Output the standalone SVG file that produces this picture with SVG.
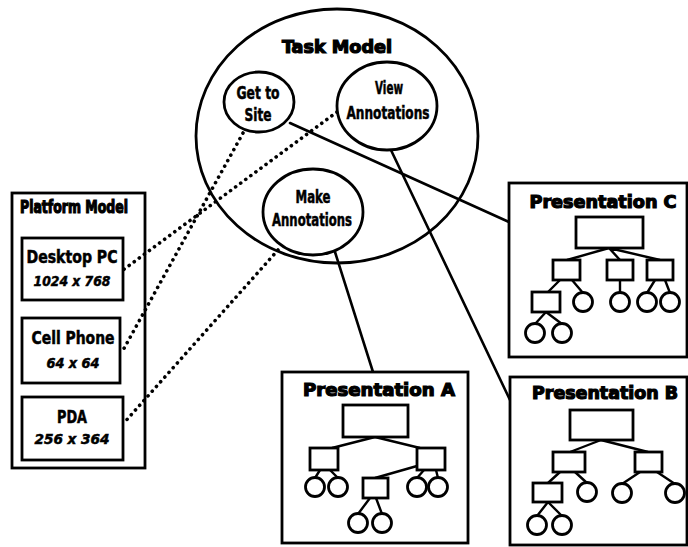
<svg xmlns="http://www.w3.org/2000/svg" width="688" height="547" viewBox="0 0 688 547">
<style>
  .shape { fill: #fff; stroke: #000; stroke-width: 2.8; }
  .ln { fill: none; stroke: #000; stroke-width: 2.6; stroke-linecap: round; }
  .dot { fill: none; stroke: #000; stroke-width: 3.6; stroke-linecap: round; stroke-dasharray: 0.1 6.2; }
  .tr { fill: #fff; stroke: #000; stroke-width: 2.8; }
  .tl { fill: none; stroke: #000; stroke-width: 2.4; }
  text { font-family: "DejaVu Sans Condensed", "DejaVu Sans", sans-serif; font-weight: bold; fill: #000; stroke: #000; stroke-width: 0.5; }
  .title { font-size: 17px; stroke-width: 1.1; }
  .lbl { font-size: 17px; }
  .sub { font-size: 14px; font-style: italic; }
</style>

<rect width="688" height="547" fill="#fff"/>

<!-- Task model -->
<g id="task-model">
  <ellipse class="shape" cx="337" cy="136" rx="141" ry="127"/>
  <text class="title" x="337" y="53" text-anchor="middle" textLength="110" lengthAdjust="spacingAndGlyphs">Task Model</text>
</g>

<!-- Platform model -->
<g id="platform-model">
  <rect class="shape" x="12" y="193" width="133" height="275"/>
  <text class="title" x="74" y="213" text-anchor="middle" textLength="108" lengthAdjust="spacingAndGlyphs">Platform Model</text>
</g>

<!-- connectors -->
<g id="connectors">
  <line class="ln" x1="290" y1="123" x2="509" y2="222"/>
  <line class="ln" x1="390" y1="148" x2="510" y2="400"/>
  <line class="ln" x1="335" y1="252" x2="373" y2="372"/>
  <line class="dot" x1="243" y1="133" x2="122" y2="352"/>
  <line class="dot" x1="337" y1="112" x2="123" y2="270"/>
  <line class="dot" x1="278" y1="250" x2="123" y2="424"/>
</g>

<g id="get-to-site">
  <ellipse class="shape" cx="259" cy="102" rx="35" ry="30"/>
  <text class="lbl" x="258" y="99" text-anchor="middle" textLength="43" lengthAdjust="spacingAndGlyphs">Get to</text>
  <text class="lbl" x="258" y="121" text-anchor="middle" textLength="27" lengthAdjust="spacingAndGlyphs">Site</text>
</g>

<g id="view-annotations">
  <ellipse class="shape" cx="387" cy="106" rx="50" ry="44"/>
  <text class="lbl" x="389" y="94" text-anchor="middle" textLength="28" lengthAdjust="spacingAndGlyphs">View</text>
  <text class="lbl" x="388" y="119" text-anchor="middle" textLength="83" lengthAdjust="spacingAndGlyphs">Annotations</text>
</g>

<g id="make-annotations">
  <ellipse class="shape" cx="313" cy="212" rx="50" ry="43"/>
  <text class="lbl" x="313" y="203" text-anchor="middle" textLength="35" lengthAdjust="spacingAndGlyphs">Make</text>
  <text class="lbl" x="312" y="226" text-anchor="middle" textLength="80" lengthAdjust="spacingAndGlyphs">Annotations</text>
</g>

<g id="desktop-pc">
  <rect class="shape" x="22" y="238" width="101" height="62"/>
  <text class="lbl" x="72" y="263" text-anchor="middle" textLength="91" lengthAdjust="spacingAndGlyphs">Desktop PC</text>
  <text class="sub" x="72" y="286" text-anchor="middle" textLength="77" lengthAdjust="spacingAndGlyphs">1024 x 768</text>
</g>

<g id="cell-phone">
  <rect class="shape" x="22" y="318" width="98" height="65"/>
  <text class="lbl" x="73" y="344" text-anchor="middle" textLength="83" lengthAdjust="spacingAndGlyphs">Cell Phone</text>
  <text class="sub" x="73" y="368" text-anchor="middle" textLength="53" lengthAdjust="spacingAndGlyphs">64 x 64</text>
</g>

<g id="pda">
  <rect class="shape" x="22" y="397" width="101" height="63"/>
  <text class="lbl" x="72" y="423" text-anchor="middle" textLength="30" lengthAdjust="spacingAndGlyphs">PDA</text>
  <text class="sub" x="72" y="444" text-anchor="middle" textLength="75" lengthAdjust="spacingAndGlyphs">256 x 364</text>
</g>

<!-- Presentation C -->
<g id="presentation-c">
  <rect class="shape" x="509" y="183" width="178" height="174"/>
  <text class="title" x="603" y="208" text-anchor="middle" textLength="147" lengthAdjust="spacingAndGlyphs">Presentation C</text>
  <path class="tl" d="M609 248 L567 260 M609 248 L620 260 M609 248 L660 260
                      M560 280 L548 292 M572 280 L583 293
                      M620 280 L620 293
                      M655 280 L647 293 M665 280 L670 293
                      M546 312 L535 324 M546 312 L562 324"/>
  <rect class="tr" x="576" y="217" width="67" height="31"/>
  <rect class="tr" x="553" y="260" width="27" height="20"/>
  <rect class="tr" x="607" y="260" width="26" height="20"/>
  <rect class="tr" x="647" y="260" width="26" height="20"/>
  <rect class="tr" x="532" y="292" width="28" height="20"/>
  <circle class="tr" cx="583" cy="302" r="9.5"/>
  <circle class="tr" cx="620" cy="302" r="9.5"/>
  <circle class="tr" cx="647" cy="302" r="9.5"/>
  <circle class="tr" cx="670" cy="302" r="9.5"/>
  <circle class="tr" cx="535" cy="333" r="9.5"/>
  <circle class="tr" cx="562" cy="333" r="9.5"/>
</g>

<!-- Presentation B -->
<g id="presentation-b">
  <rect class="shape" x="510" y="377" width="177" height="168"/>
  <text class="title" x="605" y="399" text-anchor="middle" textLength="146" lengthAdjust="spacingAndGlyphs">Presentation B</text>
  <path class="tl" d="M601 440 L570 452 M601 440 L648 452
                      M560 472 L548 483 M575 472 L587 483
                      M640 472 L622 484 M657 472 L675 484
                      M548 502 L537 516 M548 502 L562 516"/>
  <rect class="tr" x="570" y="410" width="63" height="30"/>
  <rect class="tr" x="553" y="452" width="32" height="20"/>
  <rect class="tr" x="635" y="452" width="27" height="20"/>
  <rect class="tr" x="533" y="483" width="29" height="19"/>
  <circle class="tr" cx="587" cy="492" r="9.5"/>
  <circle class="tr" cx="622" cy="493" r="9.5"/>
  <circle class="tr" cx="675" cy="493" r="9.5"/>
  <circle class="tr" cx="537" cy="525" r="9.5"/>
  <circle class="tr" cx="562" cy="525" r="9.5"/>
</g>

<!-- Presentation A -->
<g id="presentation-a">
  <rect class="shape" x="282" y="372" width="186" height="171"/>
  <text class="title" x="379" y="396" text-anchor="middle" textLength="152" lengthAdjust="spacingAndGlyphs">Presentation A</text>
  <path class="tl" d="M375 437 L332 448 M375 437 L420 448
                      M320 470 L315 478 M330 470 L338 478
                      M424 470 L417 478 M436 470 L438 478
                      M375 478 L417 466
                      M370 498 L358 514 M376 498 L382 514"/>
  <rect class="tr" x="343" y="405" width="65" height="32"/>
  <rect class="tr" x="310" y="448" width="28" height="22"/>
  <rect class="tr" x="417" y="448" width="28" height="22"/>
  <rect class="tr" x="363" y="478" width="25" height="20"/>
  <circle class="tr" cx="315" cy="487" r="9.5"/>
  <circle class="tr" cx="338" cy="487" r="9.5"/>
  <circle class="tr" cx="417" cy="487" r="9.5"/>
  <circle class="tr" cx="438" cy="487" r="9.5"/>
  <circle class="tr" cx="358" cy="523" r="9.5"/>
  <circle class="tr" cx="382" cy="523" r="9.5"/>
</g>
</svg>
